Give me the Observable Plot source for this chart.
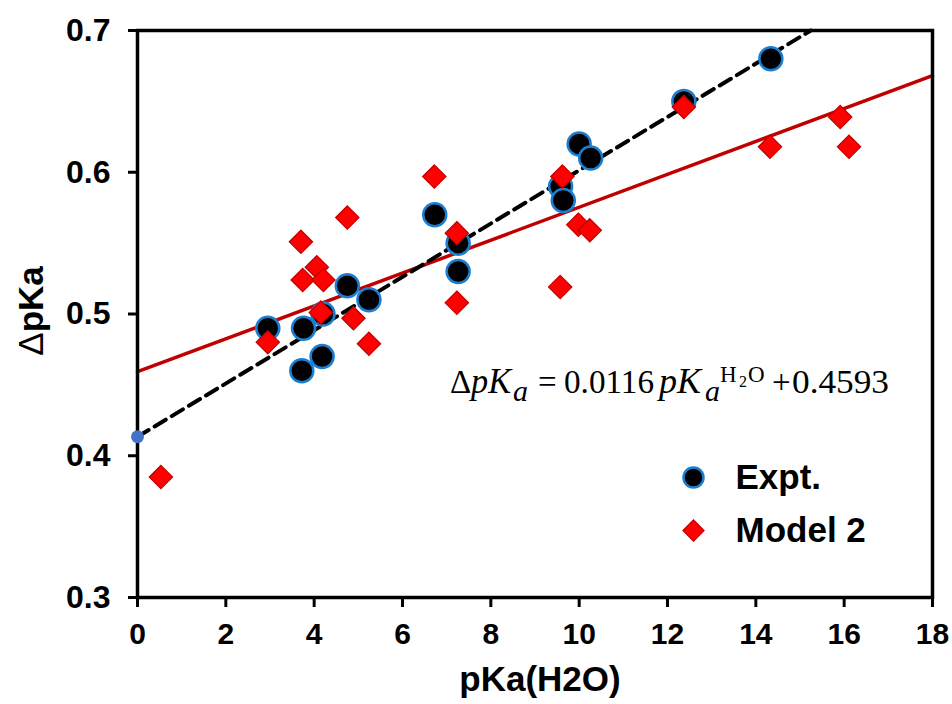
<!DOCTYPE html>
<html><head><meta charset="utf-8">
<script src="https://cdn.jsdelivr.net/npm/d3@7"></script>
<script src="https://cdn.jsdelivr.net/npm/@observablehq/plot@0.6"></script>
<style>
body{margin:0;background:#fff;}
</style></head><body><div id="chart"></div>
<script>
// ---- data ----
const xTicks = [0, 2, 4, 6, 8, 10, 12, 14, 16, 18];
const yTicks = [0.3, 0.4, 0.5, 0.6, 0.7];
const yTickLabels = ["0.3", "0.4", "0.5", "0.6", "0.7"];
const exptX = [2.95, 3.72, 3.76, 4.18, 4.20, 4.75, 5.24, 6.73, 7.26, 7.26, 9.58, 9.64, 10.00, 10.26, 12.37, 14.34];
const exptY = [0.49, 0.46, 0.49, 0.47, 0.50, 0.52, 0.51, 0.57, 0.55, 0.53, 0.59, 0.58, 0.62, 0.61, 0.65, 0.68];
const modelX = [0.53, 2.95, 3.70, 3.74, 4.06, 4.21, 4.15, 4.89, 5.24, 4.75, 6.72, 7.23, 7.23, 9.57, 9.62, 9.98, 10.24, 12.37, 14.32, 15.91, 16.11];
const modelY = [0.385, 0.480, 0.551, 0.524, 0.533, 0.524, 0.501, 0.497, 0.479, 0.568, 0.597, 0.557, 0.508, 0.519, 0.597, 0.563, 0.559, 0.646, 0.618, 0.639, 0.618];
const seriesNames = ["Expt.", "Model 2"];
const model2Fit = {slope: 0.0116, intercept: 0.4593};
const exptFit = {slope: 0.0188, intercept: 0.4134};
const xLabel = "pKa(H2O)";
const yLabelParts = ["\u0394", "pKa"];

// ---- derived tables ----
const expt = exptX.map((x, i) => ({x, y: exptY[i]}));
const model = modelX.map((x, i) => ({x, y: modelY[i]}));
const redLine = [0, 18].map(x => ({x, y: model2Fit.intercept + model2Fit.slope * x}));
const xEnd = (0.7 - exptFit.intercept) / exptFit.slope;
const dashLine = [0, xEnd].map(x => ({x, y: exptFit.intercept + exptFit.slope * x}));
const interceptPt = [{x: 0, y: exptFit.intercept}];
const yTickData = yTicks.map((v, i) => ({v, label: yTickLabels[i]}));

const sans = "'Liberation Sans', Arial, sans-serif";
const chart = Plot.plot({
  width: 952, height: 704,
  marginLeft: 137, marginRight: 20, marginTop: 30, marginBottom: 107,
  x: {domain: [0, 18]},
  y: {domain: [0.3, 0.7]},
  style: {fontFamily: sans, background: "white", color: "black", overflow: "visible"},
  marks: [
    Plot.axisX({ticks: xTicks, tickSize: 10, strokeWidth: 3, label: null, tickFormat: () => ""}),
    Plot.axisY({ticks: yTicks, tickSize: 9, strokeWidth: 3, label: null, tickFormat: () => ""}),
    // tick labels
    Plot.text(xTicks, {x: d => d, text: d => String(d), frameAnchor: "bottom", dy: 25, lineAnchor: "top", fontSize: 30, fontWeight: "bold"}),
    Plot.text(yTickData, {y: "v", text: "label", frameAnchor: "left", dx: -27, textAnchor: "end", lineAnchor: "middle", fontSize: 32, fontWeight: "bold"}),
    Plot.line(redLine, {x: "x", y: "y", stroke: "#c00000", strokeWidth: 3.5}),
    Plot.line(dashLine, {x: "x", y: "y", stroke: "black", strokeWidth: 4, strokeDasharray: "13,7"}),
    Plot.dot(expt, {x: "x", y: "y", r: 11.5, fill: "black", stroke: "#1a7fd2", strokeWidth: 2.5}),
    Plot.dot(model, {x: "x", y: "y", symbol: "diamond2", r: 10.5, fill: "#ff0000", stroke: "#c00000", strokeWidth: 1.2}),
    Plot.frame({stroke: "black", strokeWidth: 3.5}),
    Plot.dot(interceptPt, {x: "x", y: "y", r: 6.5, fill: "#4472c4"}),
    // legend
    Plot.dot([seriesNames[0]], {frameAnchor: "top-left", dx: 556, dy: 447, r: 10, fill: "black", stroke: "#1a7fd2", strokeWidth: 2.5}),
    Plot.dot([seriesNames[1]], {frameAnchor: "top-left", dx: 556, dy: 500, symbol: "diamond2", r: 9.5, fill: "#ff0000", stroke: "#c00000", strokeWidth: 1.2}),
    Plot.text([seriesNames[0]], {text: d => d, frameAnchor: "top-left", dx: 598, dy: 447, textAnchor: "start", lineAnchor: "middle", fontSize: 35, fontWeight: "bold"}),
    Plot.text([seriesNames[1]], {text: d => d, frameAnchor: "top-left", dx: 598, dy: 500, textAnchor: "start", lineAnchor: "middle", fontSize: 35, fontWeight: "bold"}),
    // x axis title
    Plot.text([xLabel], {text: d => d, frameAnchor: "bottom", dx: 5, dy: 82, lineAnchor: "middle", fontSize: 35, fontWeight: "bold"})
  ]
});
document.getElementById("chart").appendChild(chart);

const svg = d3.select(chart);

// y axis title
const yt = svg.append("text")
  .attr("transform", "translate(43,311) rotate(-90)")
  .attr("text-anchor", "middle")
  .attr("font-family", sans)
  .attr("font-size", 35)
  .attr("fill", "black");
yt.append("tspan").attr("font-weight", "normal").text(yLabelParts[0]);
yt.append("tspan").attr("font-weight", "bold").text(yLabelParts[1]);

// regression equation
const serif = "'Liberation Serif', 'Times New Roman', serif";
const eq = svg.append("text")
  .attr("text-anchor", "start")
  .attr("font-family", serif)
  .attr("font-size", 33)
  .attr("fill", "black");
const part = (t, x, y, o = {}) => {
  const s = eq.append("tspan").attr("x", x).attr("y", y).text(t);
  if (o.italic) s.attr("font-style", "italic");
  if (o.size) s.attr("font-size", o.size);
  if (o.len) s.attr("textLength", o.len).attr("lengthAdjust", "spacingAndGlyphs");
  return s;
};
part("\u0394", 450, 393);
part("pK", 471, 393, {italic: true, size: 35, len: 40});
part("a", 513, 401, {italic: true, size: 30});
part("=", 538, 393);
part("0.0116", 564, 393, {len: 90});
part("pK", 659, 393, {italic: true, size: 35, len: 42});
part("a", 705, 401, {italic: true, size: 30});
part("H", 720, 382, {size: 23});
part("2", 739, 387, {size: 16});
part("O", 748, 382, {size: 23});
part("+", 772, 393);
part("0.4593", 792, 393, {len: 97});
</script>
</body></html>
